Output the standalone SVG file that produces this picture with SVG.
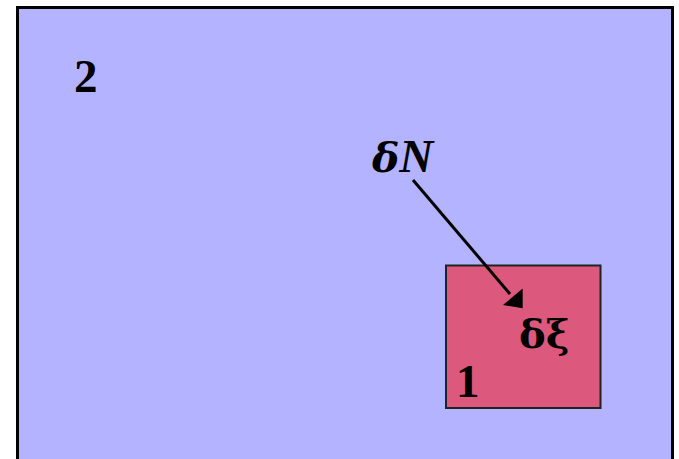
<svg xmlns="http://www.w3.org/2000/svg" width="679" height="459" viewBox="0 0 679 459">
<style>
.lbl{font-family:"Liberation Serif","Times New Roman",serif;font-weight:bold;fill:#000}
.gr{font-family:"DejaVu Serif","Liberation Serif",serif;font-weight:bold;fill:#000}
</style>
<rect width="679" height="459" fill="#fff"/>
<g id="region2">
<rect x="17.5" y="7.5" width="655" height="460" fill="#b3b3ff" stroke="#000" stroke-width="3"/>
<text class="lbl" x="74" y="92" font-size="47">2</text>
</g>
<g id="region1">
<rect x="446" y="265.5" width="154.5" height="142.5" fill="#dc587c" stroke="#222" stroke-width="2"/>
<text class="lbl" x="456" y="397" font-size="47">1</text>
<text class="gr" x="519" y="348" font-size="40">δξ</text>
</g>
<g id="labelN">
<text class="lbl" x="372" y="172" font-size="47" font-style="italic"><tspan class="gr" font-size="41">δ</tspan>N</text>
</g>
<g id="connectors">
<line x1="413" y1="180" x2="510" y2="294" stroke="#000" stroke-width="3"/>
<path d="M522.7,308.3 L503,305 L522.7,288.5 Z" fill="#000"/>
</g>
</svg>
